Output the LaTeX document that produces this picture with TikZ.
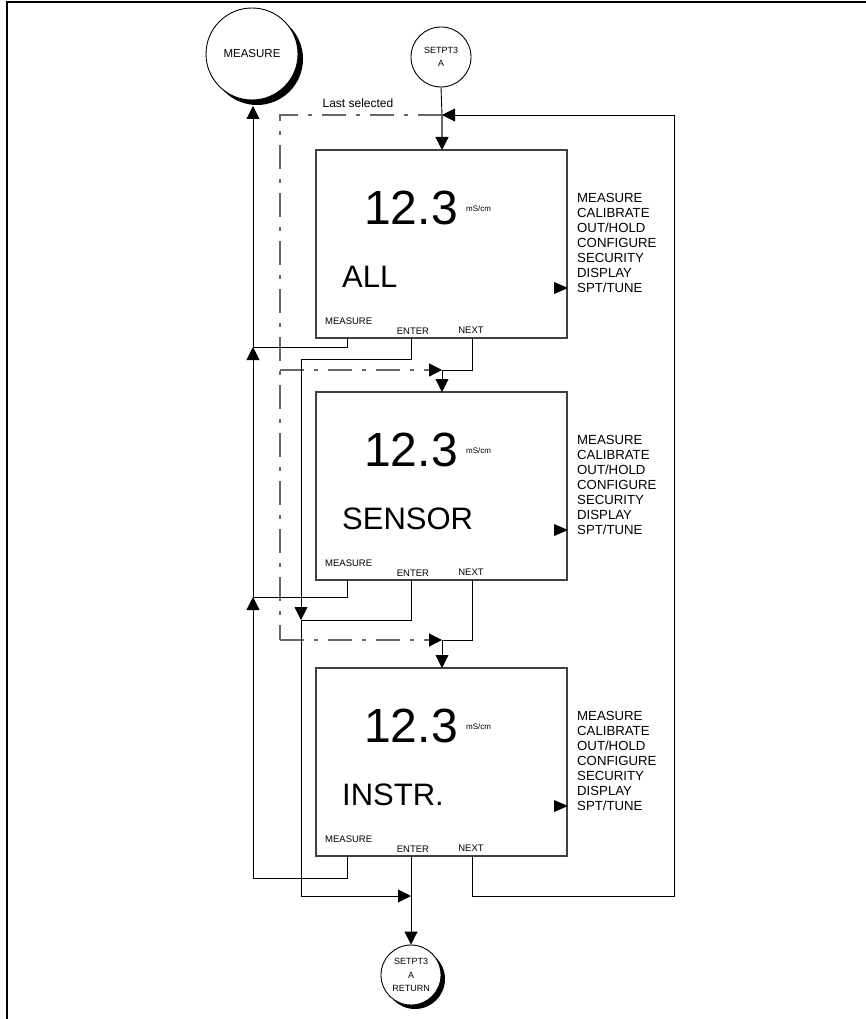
\documentclass[tikz,border=0pt]{standalone}
\usepackage{fontspec}
\setmainfont{Liberation Sans}
\usetikzlibrary{arrows.meta,calc}
\begin{document}
\begin{tikzpicture}[x=1pt,y=-1pt,
  conn/.style={line width=0.9pt,black},
  arr/.style={conn,-{Triangle[length=13pt,width=13pt,color=black]}},
  dd/.style={line width=1.2pt,draw=black!60,dash pattern=on 24pt off 10pt on 4pt off 10pt},
  ddarr/.style={dd,-{Triangle[length=13pt,width=13pt,color=black]}},
  screen/.style={draw=black!75,line width=1.2pt,minimum width=251pt,minimum height=188pt,inner sep=0pt,outer sep=0pt,anchor=north west},
  circ/.style={circle,draw,line width=0.9pt,fill=white,inner sep=0pt,align=center},
  big/.style={font=\fontsize{48}{48}\selectfont,inner sep=0pt},
  mid/.style={font=\fontsize{31}{31}\selectfont,inner sep=0pt,anchor=west},
  unit/.style={font=\fontsize{8}{8}\selectfont,inner sep=0pt,anchor=west},
  btn/.style={font=\fontsize{9.5}{10}\selectfont,inner sep=0pt},
  menu/.style={font=\fontsize{13.2}{14}\selectfont,inner sep=0pt,anchor=west},
  lbl/.style={font=\fontsize{12}{13}\selectfont,inner sep=0pt}]
\useasboundingbox (0,0) rectangle (866,1019);
% frame
\draw[line width=1.8pt] (7,1019) -- (7,2) -- (866,2);

% circles
\fill[black] (257,59) circle[radius=46pt];
\node[circ,minimum size=92pt,font=\fontsize{11.5}{12}\selectfont] (meas) at (252,54) {MEASURE};
\node[circ,minimum size=60pt,font=\fontsize{9}{13}\selectfont] (setpt) at (441,57) {SETPT3\\A};
\fill[black] (415,979) circle[radius=30pt];
\node[circ,minimum size=60pt,font=\fontsize{9}{13.5}\selectfont] (ret) at (411,975) {SETPT3\\A\\RETURN};

\node[lbl] (last) at (358,103) {Last selected};

% screens
\foreach \i/\t/\lab in {1/150/ALL,2/392/SENSOR,3/668/INSTR.}{
  \node[screen] (b\i) at (316,\t) {};
  \node[big] (v\i) at (411,{\t+58}) {12.3};
  \node[unit] (u\i) at (466,{\t+59}) {mS/cm};
  \node[mid] (l\i) at (342,{\t+127}) {\lab};
  \node[btn,anchor=west] (bm\i) at (325,{\t+171}) {MEASURE};
  \node[btn] (be\i) at (413,{\t+181}) {ENTER};
  \node[btn] (bn\i) at (471,{\t+180}) {NEXT};
  \foreach \j/\w in {0/MEASURE,1/CALIBRATE,2/OUT\slash HOLD,3/CONFIGURE,4/SECURITY,5/DISPLAY,6/SPT\slash TUNE}{
    \node[menu] (mn\i\j) at (577,{\t+48+15*\j}) {\w};
  }
  \fill[black] (554,{\t+132}) -- (568,{\t+138}) -- (554,{\t+144}) -- cycle;
  \coordinate (pm\i) at (347,{\t+188});
  \coordinate (pe\i) at (411,{\t+188});
  \coordinate (pn\i) at (472,{\t+188});
}

% coordinates
\coordinate (j1) at (253,347);
\coordinate (j2) at (253,597);
\coordinate (j3) at (253,878);
\coordinate (mtip) at (253,106);
\coordinate (k1) at (301,359);
\coordinate (k2) at (301,620);
\coordinate (k3) at (301,896);
\coordinate (k4) at (411,896);
\coordinate (n0) at (442,115);
\coordinate (n1) at (442,370);
\coordinate (n2) at (442,640);
\coordinate (t1) at (442,150);
\coordinate (t2) at (442,392);
\coordinate (t3) at (442,668);
\coordinate (rb) at (674,896);
\coordinate (rt) at (674,115);
\coordinate (d0) at (280,115);
\coordinate (d1) at (280,370);
\coordinate (d2) at (280,640);

% dash-dot "last selected" paths
\draw[dd] (n0) -- (d0) -- (d2);
\draw[ddarr] (d1) -- (n1);
\draw[ddarr] (d2) -- (n2);
\draw[ddarr] (n0) -- (t1);

% MEASURE returns
\draw[conn] (pm3) |- (j3);
\draw[arr] (j3) -- (j2);
\draw[conn] (pm2) |- (j2);
\draw[arr] (j2) -- (j1);
\draw[conn] (pm1) |- (j1);
\draw[arr] (j1) -- (mtip);

% ENTER paths
\draw[conn] (pe1) |- (k1);
\draw[arr] (k1) -- (k2);
\draw[conn] (pe2) |- (k2);
\draw[conn] (k2) -- (k3);
\draw[arr] (k3) -- (k4);
\draw[arr] (pe3) -- (ret.north);

% NEXT paths
\draw[conn] (pn1) |- (n1);
\draw[arr] (n1) -- (t2);
\draw[conn] (pn2) |- (n2);
\draw[arr] (n2) -- (t3);
\draw[arr] (pn3) |- (rb) -- (rt) -- (n0);
\draw[conn] (setpt.south) -- (n0);
\end{tikzpicture}
\end{document}
